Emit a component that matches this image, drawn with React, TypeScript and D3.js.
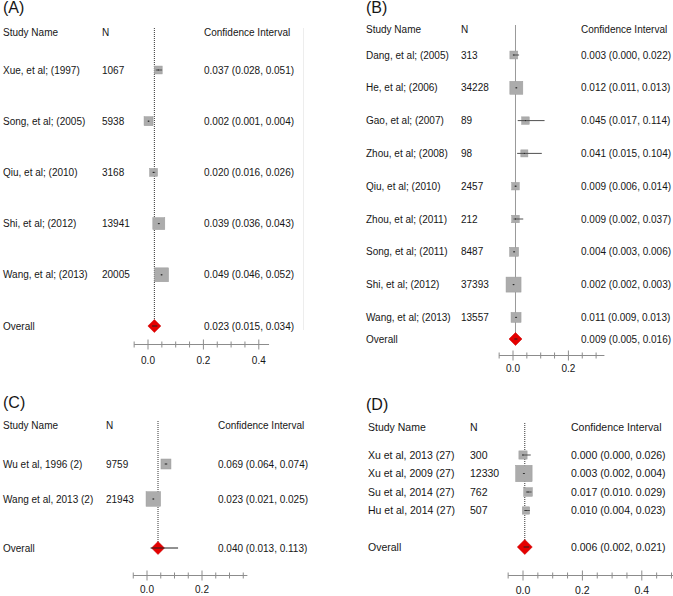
import React from "react";
import * as d3 from "d3";

// panel A
const aStudies = ["Xue, et al; (1997)", "Song, et al; (2005)", "Qiu, et al; (2010)", "Shi, et al; (2012)", "Wang, et al; (2013)"];
const aN = [1067, 5938, 3168, 13941, 20005];
const aEst = [0.037, 0.002, 0.02, 0.039, 0.049];
const aLo = [0.028, 0.001, 0.016, 0.036, 0.046];
const aHi = [0.051, 0.004, 0.026, 0.043, 0.052];
const aWeight = [10, 13, 10, 23, 31];
const aOverall = [0.023, 0.015, 0.034];

// panel B
const bStudies = ["Dang, et al; (2005)", "He, et al; (2006)", "Gao, et al; (2007)", "Zhou, et al; (2008)", "Qiu, et al; (2010)", "Zhou, et al; (2011)", "Song, et al; (2011)", "Shi, et al; (2012)", "Wang, et al; (2013)"];
const bN = [313, 34228, 89, 98, 2457, 212, 8487, 37393, 13557];
const bEst = [0.003, 0.012, 0.045, 0.041, 0.009, 0.009, 0.004, 0.002, 0.011];
const bLo = [0.0, 0.011, 0.017, 0.015, 0.006, 0.002, 0.003, 0.002, 0.009];
const bHi = [0.022, 0.013, 0.114, 0.104, 0.014, 0.037, 0.006, 0.003, 0.013];
const bWeight = [10, 27, 9, 8, 9, 9, 13, 36, 16];
const bOverall = [0.009, 0.005, 0.016];

// panel C
const cStudies = ["Wu et al, 1996 (2)", "Wang et al, 2013 (2)"];
const cN = [9759, 21943];
const cEst = [0.069, 0.023];
const cLo = [0.064, 0.021];
const cHi = [0.074, 0.025];
const cWeight = [16, 34];
const cOverall = [0.04, 0.013, 0.113];

// panel D
const dStudies = ["Xu et al, 2013 (27)", "Xu et al, 2009 (27)", "Su et al, 2014 (27)", "Hu et al, 2014 (27)"];
const dN = [300, 12330, 762, 507];
const dEst = [0.0, 0.003, 0.017, 0.01];
const dLo = [0.0, 0.002, 0.01, 0.004];
const dHi = [0.026, 0.004, 0.029, 0.023];
const dWeight = [10, 40, 11, 8];
const dOverall = [0.006, 0.002, 0.021];
const dSep = [", ", ", ", ". ", ", "]; // as printed in the source figure

const fmt = d3.format(".3f");
const FONT = "'Liberation Sans', Arial, Helvetica, sans-serif";
const sizeScale = d3.scaleSqrt().domain([0, 36]).range([0, 15]);

type Layout = {
  label: string; labelX: number; labelY: number;
  xName: number; xN: number; xCI: number;
  headerY: number; rowY0: number; rowStep: number; overallY: number;
  x0: number; ppu: number; axisY: number; axisLabelY: number;
  axisHi: number; tickHi: number; majors: number[];
  font: number; diamond: number; boxK: number;
};

type Data = {
  studies: string[]; n: number[]; est: number[]; lo: number[]; hi: number[];
  weight: number[]; overall: number[]; sep?: string[];
};

function Panel({ d, l }: { d: Data; l: Layout }) {
  const x = d3.scaleLinear().domain([0, 1]).range([l.x0, l.x0 + l.ppu]);
  const y = d3.scaleLinear().domain([0, 1]).range([l.rowY0, l.rowY0 + l.rowStep]);
  const ticks = d3.range(-0.05, l.tickHi + 0.001, 0.05).map((t) => Math.round(t * 100) / 100);
  const txt = { fontFamily: FONT, fontSize: l.font, fill: "#161616" } as const;
  const ci = (e: number, a: number, b: number, s = ", ") => `${fmt(e)} (${fmt(a)}${s}${fmt(b)})`;
  const [oe, ol, oh] = d.overall;
  const ox = x(oe);
  const hd = l.diamond / 2;
  return (
    <g>
      <text x={l.labelX} y={l.labelY} style={{ fontFamily: FONT, fontSize: 16, fill: "#161616" }}>{l.label}</text>
      <text x={l.xName} y={l.headerY + 3.6} style={txt}>Study Name</text>
      <text x={l.xN} y={l.headerY + 3.6} style={txt}>N</text>
      <text x={l.xCI} y={l.headerY + 3.6} style={txt}>Confidence Interval</text>
      <line x1={ox} x2={ox} y1={l.headerY - 4} y2={l.overallY} stroke="#333" strokeWidth={1} strokeDasharray="1,1" />
      {d.studies.map((s, i) => {
        const cy = y(i);
        const cx = x(d.est[i]);
        const side = sizeScale(d.weight[i]) * l.boxK;
        const x1 = Math.min(x(d.lo[i]), cx - 1);
        const x2 = Math.max(x(d.hi[i]), cx + 1);
        return (
          <g key={s}>
            <text x={l.xName} y={cy + 3.6} style={txt}>{s}</text>
            <text x={l.xN} y={cy + 3.6} style={txt}>{d.n[i]}</text>
            <text x={l.xCI} y={cy + 3.6} style={txt}>{ci(d.est[i], d.lo[i], d.hi[i], d.sep ? d.sep[i] : ", ")}</text>
            <rect x={cx - side / 2} y={cy - side / 2} width={side} height={side} fill="#acacac" stroke="#9c9c9c" strokeWidth={0.5} />
            <line x1={x1} x2={x2} y1={cy} y2={cy} stroke="#505050" strokeWidth={1} />
            <rect x={cx - 0.5} y={cy - 0.5} width={1} height={1} fill="#222" />
          </g>
        );
      })}
      <text x={l.xName} y={l.overallY + 3.6} style={txt}>Overall</text>
      <text x={l.xCI} y={l.overallY + 3.6} style={txt}>{ci(oe, ol, oh)}</text>
      <polygon
        points={`${ox - hd},${l.overallY} ${ox},${l.overallY - hd} ${ox + hd},${l.overallY} ${ox},${l.overallY + hd}`}
        fill="#e50000" stroke="#c80000" strokeWidth={0.5}
      />
      <line x1={Math.min(x(ol), ox - 1)} x2={Math.max(x(oh), ox + 1)} y1={l.overallY} y2={l.overallY} stroke="#222" strokeWidth={1} />
      <line x1={x(-0.05)} x2={x(l.axisHi)} y1={l.axisY} y2={l.axisY} stroke="#8c8c8c" strokeWidth={1} />
      {ticks.map((t) => {
        const major = l.majors.includes(t);
        const h = major ? 5 : 3;
        return <line key={t} x1={x(t)} x2={x(t)} y1={l.axisY - h} y2={l.axisY + h} stroke="#8c8c8c" strokeWidth={1} />;
      })}
      {l.majors.map((t) => (
        <text key={t} x={x(t)} y={l.axisLabelY} textAnchor="middle" style={txt}>{d3.format(".1f")(t)}</text>
      ))}
    </g>
  );
}

const base = { font: 10, diamond: 13, boxK: 1 };

const layoutA: Layout = { ...base, label: "(A)", labelX: 3, labelY: 12.5, xName: 3, xN: 102, xCI: 204, headerY: 32, rowY0: 70, rowStep: 51.2, overallY: 326, x0: 148, ppu: 277, axisY: 344.5, axisLabelY: 364, axisHi: 0.437, tickHi: 0.4, majors: [0, 0.2, 0.4] };
const layoutB: Layout = { ...base, label: "(B)", labelX: 366, labelY: 12.6, xName: 366, xN: 461, xCI: 581, headerY: 29.5, rowY0: 55, rowStep: 32.8, overallY: 339, x0: 513, ppu: 277, axisY: 355.5, axisLabelY: 372, axisHi: 0.33, tickHi: 0.3, majors: [0, 0.2] };
const layoutC: Layout = { ...base, label: "(C)", labelX: 3, labelY: 407.6, xName: 3, xN: 106, xCI: 218, headerY: 425, rowY0: 464, rowStep: 35, overallY: 548, x0: 147, ppu: 275, axisY: 575.5, axisLabelY: 593, axisHi: 0.365, tickHi: 0.35, majors: [0, 0.2] };
const layoutD: Layout = { ...base, font: 10.5, diamond: 15, boxK: 1.04, label: "(D)", labelX: 366, labelY: 409.5, xName: 368, xN: 470, xCI: 571, headerY: 427, rowY0: 455, rowStep: 18.5, overallY: 547, x0: 523, ppu: 297, axisY: 575.5, axisLabelY: 594, axisHi: 0.6, tickHi: 0.55, majors: [0, 0.2, 0.4] };

export default function App() {
  return (
    <svg width={673} height={596} style={{ position: "absolute", left: 0, top: 0, background: "#fff" }}>
      <rect width={673} height={596} fill="#fff" />
      <line x1={303.5} x2={303.5} y1={28} y2={330} stroke="#ededed" strokeWidth={1} />
      <Panel d={{ studies: aStudies, n: aN, est: aEst, lo: aLo, hi: aHi, weight: aWeight, overall: aOverall }} l={layoutA} />
      <Panel d={{ studies: bStudies, n: bN, est: bEst, lo: bLo, hi: bHi, weight: bWeight, overall: bOverall }} l={layoutB} />
      <Panel d={{ studies: cStudies, n: cN, est: cEst, lo: cLo, hi: cHi, weight: cWeight, overall: cOverall }} l={layoutC} />
      <Panel d={{ studies: dStudies, n: dN, est: dEst, lo: dLo, hi: dHi, weight: dWeight, overall: dOverall, sep: dSep }} l={layoutD} />
    </svg>
  );
}
